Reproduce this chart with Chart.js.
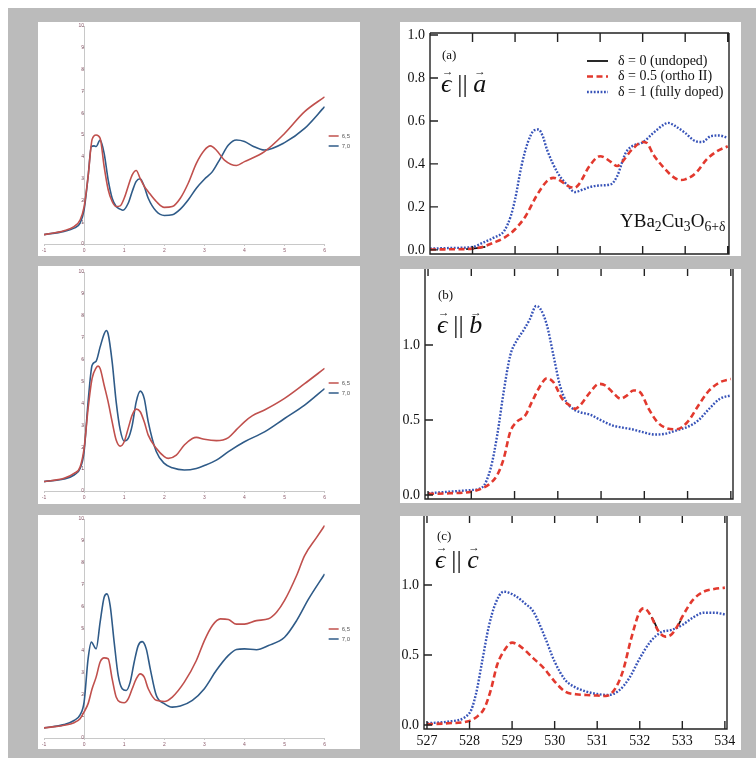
<!DOCTYPE html>
<html>
<head>
<meta charset="utf-8">
<script src="https://cdn.jsdelivr.net/npm/chart.js@4.4.0/dist/chart.umd.min.js"></script>
<style>
  body { margin: 0; background: #fff; width: 756px; height: 758px; overflow: hidden; }
  #bg { position: absolute; left: 8px; top: 8px; width: 748px; height: 750px; background: #bbbbbb; }
  .panel { position: absolute; background: #fff; }
  .panel canvas { position: absolute; left: 0; top: 0; }
  .txt { position: absolute; font-family: 'Liberation Serif', 'DejaVu Serif', serif; color: #111; line-height: 1; white-space: nowrap; }
  .eq { font-size: 26px; }
  .vec { position: relative; font-style: italic; display: inline-block; }
  .vec::before { content: '\2192'; position: absolute; left: 0.08em; top: -0.42em; font-size: 0.45em; font-style: normal; }
  .par { display: inline-block; margin: 0 0.22em; }
  .sm { font-size: 13px; }
  .formula { font-size: 19px; }
  .formula sub { font-size: 0.72em; vertical-align: -0.3em; line-height: 0; }
</style>
</head>
<body>
<div id="bg"></div>

<div class="panel" style="left:38px;top:22px;width:322px;height:234px"><canvas id="l1" width="322" height="234"></canvas></div>
<div class="panel" style="left:38px;top:266px;width:322px;height:238px"><canvas id="l2" width="322" height="238"></canvas></div>
<div class="panel" style="left:38px;top:515px;width:322px;height:234px"><canvas id="l3" width="322" height="234"></canvas></div>

<div class="panel" style="left:400px;top:22px;width:341px;height:234px"><canvas id="ra" width="341" height="234"></canvas></div>
<div class="panel" style="left:400px;top:269px;width:341px;height:234px"><canvas id="rb" width="341" height="234"></canvas></div>
<div class="panel" style="left:400px;top:516px;width:341px;height:234px"><canvas id="rc" width="341" height="234"></canvas></div>

<div class="txt sm" style="left:442px;top:48px">(a)</div>
<div class="txt eq" style="left:441px;top:71px"><span class="vec">ϵ</span><span class="par">||</span><span class="vec">a</span></div>
<div class="txt formula" style="left:620px;top:211px">YBa<sub>2</sub>Cu<sub>3</sub>O<sub>6+δ</sub></div>

<div class="txt sm" style="left:438px;top:288px">(b)</div>
<div class="txt eq" style="left:437px;top:312px"><span class="vec">ϵ</span><span class="par">||</span><span class="vec">b</span></div>

<div class="txt sm" style="left:437px;top:529px">(c)</div>
<div class="txt eq" style="left:435px;top:547px"><span class="vec">ϵ</span><span class="par">||</span><span class="vec">c</span></div>

<script>
// ---- left column: two series "6,5" and "7,0", x from -1 to 6 ----
const l1RedX = [-1, -0.5, -0.25, -0.1, 0, 0.1, 0.2, 0.3, 0.4, 0.5, 0.6, 0.7, 0.8, 0.9, 1.0, 1.1, 1.2, 1.3, 1.4, 1.5, 1.6, 1.8, 2.0, 2.2, 2.4, 2.6, 2.8, 3.0, 3.15, 3.3, 3.5, 3.8, 4.0, 4.5, 5.0, 5.5, 6.0];
const l1RedY = [0.43, 0.61, 0.8, 1.1, 1.7, 3.1, 4.8, 5.0, 4.85, 3.55, 2.5, 1.95, 1.72, 1.75, 2.1, 2.65, 3.17, 3.37, 3.0, 2.65, 2.4, 1.95, 1.68, 1.72, 2.1, 2.8, 3.7, 4.3, 4.5, 4.3, 3.85, 3.6, 3.78, 4.24, 5.07, 6.07, 6.75];
const l1BlueX = [-1, -0.5, -0.25, -0.1, 0, 0.1, 0.18, 0.25, 0.3, 0.4, 0.5, 0.6, 0.7, 0.8, 0.9, 0.97, 1.1, 1.2, 1.3, 1.4, 1.5, 1.6, 1.8, 2.0, 2.2, 2.4, 2.6, 2.8, 3.0, 3.2, 3.4, 3.6, 3.8, 4.0, 4.2, 4.5, 5.0, 5.5, 6.0];
const l1BlueY = [0.43, 0.58, 0.73, 0.96, 1.57, 3.1, 4.47, 4.5, 4.47, 4.77, 4.16, 2.94, 2.1, 1.72, 1.6, 1.55, 1.87, 2.41, 2.87, 2.99, 2.64, 2.1, 1.5, 1.31, 1.34, 1.6, 2.03, 2.56, 2.97, 3.32, 3.93, 4.54, 4.77, 4.7, 4.5, 4.31, 4.65, 5.3, 6.3];

const l2RedX = [-1, -0.5, -0.25, -0.1, 0, 0.1, 0.2, 0.3, 0.35, 0.4, 0.5, 0.6, 0.7, 0.8, 0.9, 1.0, 1.1, 1.2, 1.3, 1.4, 1.5, 1.6, 1.8, 2.0, 2.1, 2.3, 2.5, 2.7, 2.8, 3.0, 3.3, 3.6, 3.8, 4.0, 4.2, 4.5, 5.0, 5.5, 6.0];
const l2RedY = [0.43, 0.58, 0.8, 1.1, 1.95, 3.77, 5.14, 5.62, 5.7, 5.59, 4.83, 4.07, 3.16, 2.33, 2.05, 2.25, 2.86, 3.47, 3.74, 3.62, 3.16, 2.55, 1.95, 1.57, 1.49, 1.64, 2.1, 2.4, 2.45, 2.36, 2.3, 2.44, 2.8, 3.16, 3.44, 3.7, 4.23, 4.9, 5.6];
const l2BlueX = [-1, -0.5, -0.25, -0.1, 0, 0.1, 0.2, 0.3, 0.4, 0.5, 0.55, 0.6, 0.7, 0.8, 0.9, 1.0, 1.1, 1.2, 1.3, 1.4, 1.5, 1.6, 1.8, 2.0, 2.2, 2.5, 2.8, 3.0, 3.3, 3.6, 4.0, 4.5, 5.0, 5.5, 6.0];
const l2BlueY = [0.43, 0.55, 0.73, 1.03, 1.8, 4.07, 5.74, 5.93, 6.58, 7.17, 7.33, 7.17, 5.9, 4.07, 2.8, 2.28, 2.4, 3.0, 4.07, 4.56, 4.22, 3.16, 1.8, 1.26, 1.06, 0.96, 1.03, 1.16, 1.41, 1.8, 2.25, 2.7, 3.31, 3.92, 4.68];

const l3RedX = [-1, -0.5, -0.25, -0.1, 0, 0.1, 0.2, 0.3, 0.4, 0.5, 0.6, 0.7, 0.8, 0.9, 1.0, 1.1, 1.2, 1.3, 1.4, 1.5, 1.6, 1.8, 2.0, 2.2, 2.5, 2.8, 3.0, 3.2, 3.4, 3.6, 3.8, 4.0, 4.3, 4.6, 4.8, 5.0, 5.3, 5.5, 5.8, 6.0];
const l3RedY = [0.46, 0.58, 0.7, 0.88, 1.19, 1.57, 2.25, 2.78, 3.47, 3.66, 3.62, 2.7, 1.87, 1.64, 1.61, 1.79, 2.25, 2.7, 2.93, 2.78, 2.25, 1.72, 1.67, 1.87, 2.55, 3.54, 4.45, 5.14, 5.44, 5.41, 5.2, 5.2, 5.36, 5.44, 5.74, 6.28, 7.42, 8.33, 9.16, 9.7];
const l3BlueX = [-1, -0.5, -0.25, -0.1, 0, 0.1, 0.18, 0.3, 0.4, 0.5, 0.57, 0.65, 0.75, 0.85, 0.95, 1.05, 1.15, 1.25, 1.35, 1.45, 1.55, 1.65, 1.8, 2.0, 2.2, 2.4, 2.7, 3.0, 3.3, 3.6, 3.8, 4.0, 4.3, 4.6, 5.0, 5.3, 5.6, 6.0];
const l3BlueY = [0.46, 0.61, 0.8, 1.06, 1.64, 3.62, 4.38, 4.07, 5.29, 6.43, 6.58, 6.05, 4.38, 2.86, 2.25, 2.17, 2.55, 3.47, 4.22, 4.4, 4.07, 3.16, 1.95, 1.57, 1.41, 1.46, 1.72, 2.25, 3.09, 3.77, 4.04, 4.07, 4.03, 4.22, 4.6, 5.36, 6.35, 7.49];

// ---- right column: XAS spectra vs photon energy (eV) ----
const undopedAX = [527.85, 528.0, 528.15, 528.3];
const undopedAY = [0.004, 0.006, 0.01, 0.014];
const orthoAX = [527, 527.5, 528, 528.25, 528.5, 528.75, 529, 529.25, 529.5, 529.75, 529.9, 530, 530.25, 530.4, 530.5, 530.75, 531, 531.25, 531.4, 531.5, 531.75, 532, 532.1, 532.25, 532.5, 532.75, 532.9, 533, 533.25, 533.5, 533.75, 534];
const orthoAY = [0.002, 0.003, 0.006, 0.015, 0.034, 0.057, 0.096, 0.158, 0.25, 0.32, 0.335, 0.33, 0.297, 0.289, 0.305, 0.39, 0.436, 0.41, 0.39, 0.405, 0.467, 0.502, 0.497, 0.444, 0.382, 0.335, 0.325, 0.328, 0.358, 0.42, 0.459, 0.482];
const fullAX = [527, 527.5, 528, 528.25, 528.5, 528.75, 528.9, 529, 529.15, 529.3, 529.45, 529.55, 529.65, 529.75, 530, 530.25, 530.4, 530.6, 530.75, 531, 531.25, 531.4, 531.6, 531.75, 532, 532.25, 532.5, 532.6, 532.75, 533, 533.25, 533.4, 533.6, 533.8, 534];
const fullAY = [0.006, 0.009, 0.014, 0.034, 0.057, 0.09, 0.158, 0.235, 0.39, 0.5, 0.556, 0.56, 0.53, 0.467, 0.359, 0.297, 0.269, 0.281, 0.292, 0.3, 0.305, 0.343, 0.451, 0.482, 0.5, 0.544, 0.583, 0.591, 0.578, 0.544, 0.505, 0.502, 0.529, 0.532, 0.521];

const orthoBX = [527, 527.5, 528, 528.25, 528.45, 528.6, 528.75, 528.9, 529.05, 529.25, 529.4, 529.6, 529.75, 529.9, 530.1, 530.3, 530.4, 530.5, 530.75, 530.95, 531.1, 531.3, 531.45, 531.6, 531.75, 531.9, 532.1, 532.3, 532.5, 532.75, 533, 533.25, 533.5, 533.75, 534];
const orthoBY = [0.007, 0.011, 0.022, 0.044, 0.08, 0.133, 0.243, 0.42, 0.487, 0.531, 0.62, 0.73, 0.779, 0.752, 0.642, 0.593, 0.575, 0.593, 0.686, 0.741, 0.73, 0.675, 0.642, 0.664, 0.697, 0.686, 0.575, 0.487, 0.447, 0.438, 0.487, 0.597, 0.697, 0.752, 0.774];
const fullBX = [527, 527.5, 528, 528.25, 528.45, 528.6, 528.75, 528.9, 529.05, 529.2, 529.35, 529.5, 529.6, 529.75, 529.9, 530.05, 530.2, 530.35, 530.5, 530.75, 531, 531.25, 531.5, 531.75, 532, 532.25, 532.5, 532.75, 533, 533.25, 533.5, 533.75, 534];
const fullBY = [0.011, 0.022, 0.033, 0.05, 0.18, 0.4, 0.69, 0.93, 1.03, 1.095, 1.17, 1.26, 1.24, 1.13, 0.93, 0.73, 0.62, 0.575, 0.553, 0.535, 0.498, 0.465, 0.449, 0.436, 0.416, 0.403, 0.409, 0.431, 0.454, 0.498, 0.575, 0.642, 0.664];

const undopedCX = [532.28, 532.35, 532.42, 532.6, 532.9, 532.96];
const undopedCY = [0.77, 0.73, 0.68, null, 0.71, 0.745];
const orthoCX = [527, 527.5, 528, 528.2, 528.35, 528.5, 528.65, 528.8, 529, 529.2, 529.5, 529.75, 530, 530.25, 530.5, 530.75, 531, 531.2, 531.4, 531.6, 531.8, 532, 532.1, 532.25, 532.4, 532.5, 532.6, 532.75, 532.9, 533, 533.25, 533.5, 533.75, 534];
const orthoCY = [0.005, 0.012, 0.029, 0.065, 0.12, 0.25, 0.43, 0.525, 0.588, 0.56, 0.476, 0.405, 0.31, 0.238, 0.219, 0.214, 0.21, 0.207, 0.25, 0.381, 0.619, 0.81, 0.833, 0.786, 0.69, 0.648, 0.631, 0.648, 0.714, 0.774, 0.893, 0.952, 0.971, 0.981];
const fullCX = [527, 527.5, 528, 528.15, 528.3, 528.45, 528.6, 528.8, 528.9, 529.1, 529.3, 529.5, 529.75, 530, 530.25, 530.5, 530.75, 531, 531.25, 531.5, 531.75, 532, 532.25, 532.5, 532.75, 533, 533.25, 533.5, 533.75, 534];
const fullCY = [0.012, 0.024, 0.085, 0.22, 0.46, 0.7, 0.86, 0.952, 0.948, 0.917, 0.869, 0.81, 0.643, 0.452, 0.321, 0.267, 0.238, 0.221, 0.214, 0.243, 0.333, 0.476, 0.595, 0.662, 0.679, 0.714, 0.767, 0.802, 0.802, 0.79];

const energyTicks = [527, 528, 529, 530, 531, 532, 533, 534];
const yTicksA = [0, 0.2, 0.4, 0.6, 0.8, 1.0];
const yTicksBC = [0, 0.5, 1.0];

const serif = "'Liberation Serif', 'DejaVu Serif', serif";
Chart.defaults.font.family = "'Liberation Sans', Arial, sans-serif";

function pts(xs, ys) {
    return xs.map((x, i) => ({ x: x, y: ys[i] }));
}

function noPad(s) {
    s.paddingTop = 0; s.paddingBottom = 0; s.paddingLeft = 0; s.paddingRight = 0;
}

function leftChart(id, redX, redY, blueX, blueY, top, axisH) {
    return new Chart(document.getElementById(id), {
        type: 'line',
        data: {
            datasets: [
                { label: '6,5', data: pts(redX, redY), borderColor: '#c0504d', borderWidth: 1.6, pointRadius: 0, cubicInterpolationMode: 'monotone' },
                { label: '7,0', data: pts(blueX, blueY), borderColor: '#2f5b88', borderWidth: 1.6, pointRadius: 0, cubicInterpolationMode: 'monotone' }
            ]
        },
        options: {
            responsive: false,
            animation: false,
            events: [],
            layout: { padding: { left: 6, top: top, right: 0, bottom: 0 } },
            plugins: {
                tooltip: { enabled: false },
                legend: {
                    position: 'right',
                    labels: { usePointStyle: true, pointStyle: 'line', pointStyleWidth: 10, boxHeight: 5, font: { size: 6 }, color: '#595959', padding: 4 }
                }
            },
            scales: {
                x: {
                    type: 'linear', min: -1, max: 6,
                    ticks: { stepSize: 1, font: { size: 5 }, color: '#8b5a6b', padding: 2 },
                    grid: { drawOnChartArea: false, tickLength: 2, color: '#c8c8c8' },
                    border: { color: '#c8c8c8' },
                    afterFit: s => { s.height = axisH; noPad(s); }
                },
                y: {
                    type: 'linear', min: 0, max: 10, position: { x: 0 },
                    ticks: { stepSize: 1, font: { size: 5 }, color: '#8b5a6b', padding: 2 },
                    grid: { drawOnChartArea: false, tickLength: 2, color: '#c8c8c8' },
                    border: { color: '#c8c8c8' },
                    afterFit: s => { noPad(s); }
                }
            }
        }
    });
}

leftChart('l1', l1RedX, l1RedY, l1BlueX, l1BlueY, 4, 12);
leftChart('l2', l2RedX, l2RedY, l2BlueX, l2BlueY, 6, 13);
leftChart('l3', l3RedX, l3RedY, l3BlueX, l3BlueY, 4, 11);

// frame with inward ticks, like the original plotting program
const framePlugin = {
    id: 'frame',
    afterDraw(chart, args, o) {
        const { ctx, chartArea: a } = chart;
        const x = chart.scales.x, y = chart.scales.y;
        ctx.save();
        ctx.strokeStyle = '#222';
        ctx.lineWidth = 1.4;
        ctx.beginPath();
        ctx.moveTo(a.left, a.top); ctx.lineTo(a.left, a.bottom);
        ctx.lineTo(a.right, a.bottom); ctx.lineTo(a.right, a.top);
        if (o.top) { ctx.moveTo(a.left, a.top); ctx.lineTo(a.right, a.top); }
        x.ticks.forEach(t => {
            const px = x.getPixelForValue(t.value);
            ctx.moveTo(px, a.bottom); ctx.lineTo(px, a.bottom - 8);
            ctx.moveTo(px, a.top); ctx.lineTo(px, a.top + o.topTick);
        });
        y.ticks.forEach(t => {
            const py = y.getPixelForValue(t.value);
            ctx.moveTo(a.left, py); ctx.lineTo(a.left + 8, py);
        });
        ctx.stroke();
        ctx.restore();
    }
};

const insideLegend = {
    id: 'insideLegend',
    afterDraw(chart, args, o) {
        if (!o.show) return;
        const { ctx, chartArea: a } = chart;
        ctx.save();
        ctx.font = '14px ' + serif;
        ctx.textBaseline = 'middle';
        ctx.fillStyle = '#111';
        chart.data.datasets.forEach((ds, i) => {
            const yy = a.top + o.top + i * o.gap;
            const xx = a.left + o.left;
            ctx.strokeStyle = ds.borderColor;
            ctx.lineWidth = ds.borderWidth;
            ctx.setLineDash(ds.borderDash || []);
            ctx.beginPath(); ctx.moveTo(xx, yy); ctx.lineTo(xx + 21, yy); ctx.stroke();
            ctx.setLineDash([]);
            ctx.fillText(ds.label, xx + 31, yy);
        });
        ctx.restore();
    }
};

function rightChart(id, sets, c) {
    const datasets = [];
    if (sets.undoped) {
        datasets.push({ label: 'δ = 0 (undoped)', data: sets.undoped, borderColor: '#111', borderWidth: 1.8, pointRadius: 0, order: 3, cubicInterpolationMode: 'monotone', spanGaps: false });
    }
    datasets.push({ label: 'δ = 0.5 (ortho II)', data: sets.ortho, borderColor: '#e2392e', borderWidth: 2.6, borderDash: [6, 3.5], pointRadius: 0, order: 1, cubicInterpolationMode: 'monotone' });
    datasets.push({ label: 'δ = 1 (fully doped)', data: sets.full, borderColor: '#3753b8', borderWidth: 2.4, borderDash: [1.8, 1.6], pointRadius: 0, order: 2, cubicInterpolationMode: 'monotone' });

    return new Chart(document.getElementById(id), {
        type: 'line',
        data: { datasets: datasets },
        plugins: [framePlugin, insideLegend],
        options: {
            responsive: false,
            animation: false,
            events: [],
            layout: { padding: { left: 0, top: c.top, right: c.right, bottom: 0 } },
            plugins: {
                tooltip: { enabled: false },
                legend: { display: false },
                frame: { top: c.frameTop, topTick: c.topTick },
                insideLegend: c.legend || { show: false }
            },
            scales: {
                x: {
                    type: 'linear', min: c.xMin, max: c.xMax,
                    afterBuildTicks: s => { s.ticks = energyTicks.map(v => ({ value: v })); },
                    ticks: { display: c.xLabels, font: { size: 14, family: serif }, color: '#111', padding: 4 },
                    grid: { display: false, drawTicks: false },
                    border: { display: false },
                    afterFit: s => { s.height = c.xH; noPad(s); }
                },
                y: {
                    type: 'linear', min: c.yMin, max: c.yMax,
                    afterBuildTicks: s => { s.ticks = c.yTicks.map(v => ({ value: v })); },
                    ticks: { font: { size: 14, family: serif }, color: '#111', padding: 5, callback: v => v.toFixed(1) },
                    grid: { display: false, drawTicks: false },
                    border: { display: false },
                    afterFit: s => { s.width = c.yW; noPad(s); }
                }
            }
        }
    });
}

rightChart('ra', { undoped: pts(undopedAX, undopedAY), ortho: pts(orthoAX, orthoAY), full: pts(fullAX, fullAY) }, {
    top: 11, right: 12, yW: 30, xH: 2, xMin: 527, xMax: 534.03, yMin: -0.019, yMax: 1.009,
    yTicks: yTicksA, xLabels: false, frameTop: true, topTick: 9,
    legend: { show: true, left: 157, top: 28, gap: 15.5 }
});
rightChart('rb', { ortho: pts(orthoBX, orthoBY), full: pts(fullBX, fullBY) }, {
    top: 0, right: 8, yW: 25, xH: 4, xMin: 526.93, xMax: 534.05, yMin: -0.027, yMax: 1.507,
    yTicks: yTicksBC, xLabels: false, frameTop: false, topTick: 7
});
rightChart('rc', { undoped: pts(undopedCX, undopedCY), ortho: pts(orthoCX, orthoCY), full: pts(fullCX, fullCY) }, {
    top: 0, right: 14, yW: 24, xH: 21, xMin: 526.93, xMax: 534.05, yMin: -0.029, yMax: 1.493,
    yTicks: yTicksBC, xLabels: true, frameTop: false, topTick: 7
});
</script>
</body>
</html>
